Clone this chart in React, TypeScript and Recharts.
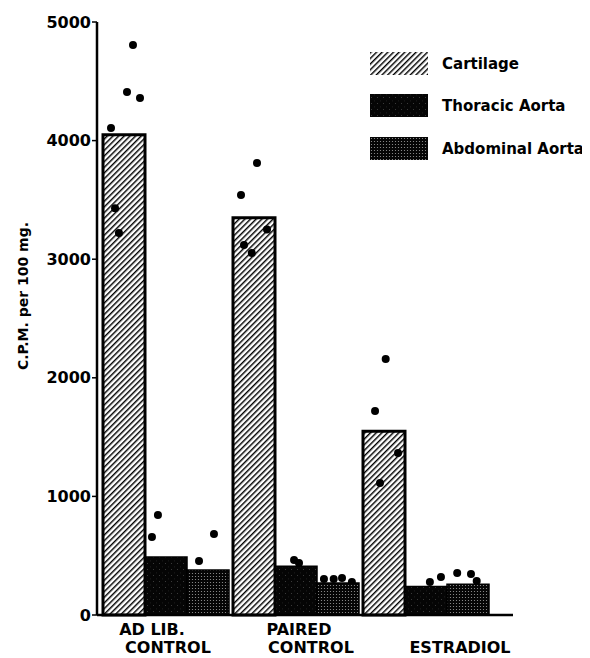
import React from "react";
import { Bar, ComposedChart, Scatter, XAxis, YAxis } from "recharts";

// group means (C.P.M. per 100 mg.)
const groups = ["AD LIB.|CONTROL", "PAIRED|CONTROL", "ESTRADIOL"];
const cartilage = [4050, 3350, 1550];
const thoracic = [490, 410, 240];
const abdominal = [380, 270, 260];
const yTicks = [0, 1000, 2000, 3000, 4000, 5000];

// single animals: where they sit across the groups (0..3) and their value
const dotPos = [
  0.246, 0.2, 0.3, 0.077, 0.108, 0.138, 0.438, 0.392, 0.754, 0.869,
  1.2, 1.077, 1.1, 1.16, 1.277, 1.485, 1.523, 1.715, 1.79, 1.854, 1.93,
  2.19, 2.108, 2.146, 2.285, 2.53, 2.615, 2.74, 2.846, 2.89,
];
const dotCpm = [
  4806, 4410, 4360, 4107, 3430, 3220, 843, 658, 455, 683,
  3811, 3541, 3120, 3052, 3250, 464, 439, 304, 304, 312, 278,
  2158, 1720, 1113, 1366, 278, 320, 354, 346, 287,
];

const legendItems = ["Cartilage", "Thoracic Aorta", "Abdominal Aorta"];

const rows = groups.map((g, i) => ({
  group: g,
  cartilage: cartilage[i],
  thoracic: thoracic[i],
  abdominal: abdominal[i],
}));
const dots = dotPos.map((x, i) => ({ x, y: dotCpm[i] }));

const FONT = "'DejaVu Sans', sans-serif";
const labelShift = [[-14, 2], [3, 15], [34]];

const Patterns = ({ prefix }: { prefix: string }) => (
  <defs>
    <pattern id={prefix + "hatch"} patternUnits="userSpaceOnUse" width="4" height="4" patternTransform="rotate(45)">
      <line x1="0" y1="0" x2="0" y2="4" stroke="#000" strokeWidth="2.9" />
    </pattern>
    <pattern id={prefix + "thor"} patternUnits="userSpaceOnUse" width="6" height="6">
      <rect width="6" height="6" fill="#050505" />
      <rect x="1" y="3" width="1" height="1" fill="#3a3a3a" />
      <rect x="4" y="0.5" width="0.8" height="0.8" fill="#2a2a2a" />
    </pattern>
    <pattern id={prefix + "abd"} patternUnits="userSpaceOnUse" width="3" height="3">
      <rect width="3" height="3" fill="#050505" />
      <circle cx="1.5" cy="1.5" r="0.6" fill="#999" />
    </pattern>
  </defs>
);

const GroupTick = (props: any) => {
  const { x, payload } = props;
  const lines = String(payload.value).split("|");
  const shifts = labelShift[payload.index] || [];
  const baseY = lines.length === 1 ? [645] : [627, 645];
  return (
    <g>
      {lines.map((t, i) => (
        <text
          key={i}
          x={x + (shifts[i] || 0)}
          y={baseY[i]}
          textAnchor="middle"
          fontFamily={FONT}
          fontWeight="bold"
          fontSize={16}
          fill="#000"
        >
          {t}
        </text>
      ))}
    </g>
  );
};

const Dot = (p: any) => <circle cx={p.cx} cy={p.cy} r={4} fill="#000" />;

const swatchFill = ["url(#lg-hatch)", "url(#lg-thor)", "url(#lg-abd)"];
const swatchTop = [44, 86, 129];

export default function App() {
  return (
    <div style={{ position: "relative", width: 582, height: 650 }}>
      <ComposedChart
        width={582}
        height={650}
        data={rows}
        margin={{ top: 14, right: 77, bottom: 3, left: 29 }}
        barCategoryGap={2}
        barGap={0}
      >
        <Patterns prefix="" />
        <XAxis
          xAxisId="cat"
          dataKey="group"
          height={40}
          padding={{ left: 4, right: 22 }}
          axisLine={{ stroke: "#000", strokeWidth: 2.5 }}
          tickLine={false}
          tick={<GroupTick />}
          interval={0}
        />
        <XAxis
          xAxisId="num"
          type="number"
          dataKey="x"
          domain={[0, 3]}
          padding={{ left: 4, right: 22 }}
          hide
        />
        <YAxis
          width={60}
          domain={[0, 5000]}
          ticks={yTicks}
          interval={0}
          axisLine={{ stroke: "#000", strokeWidth: 2.5 }}
          tickLine={{ stroke: "#000", strokeWidth: 1.5 }}
          tickSize={5}
          tickMargin={1}
          tick={{ fill: "#000", fontFamily: FONT, fontWeight: "bold", fontSize: 16 }}
          label={() => (
            <text
              x={20}
              y={288}
              transform="rotate(-90 20 288)"
              textAnchor="middle"
              fontFamily={FONT}
              fontWeight="bold"
              fontSize={14}
              fill="#000"
            >
              C.P.M. per 100 mg.
            </text>
          )}
        />
        <Scatter xAxisId="num" data={dots} dataKey="y" shape={<Dot />} zIndex={100} isAnimationActive={false} />
        <Bar xAxisId="cat" dataKey="cartilage" fill="url(#hatch)" stroke="#000" strokeWidth={3} isAnimationActive={false} />
        <Bar xAxisId="cat" dataKey="thoracic" fill="url(#thor)" stroke="#000" strokeWidth={1.5} isAnimationActive={false} />
        <Bar xAxisId="cat" dataKey="abdominal" fill="url(#abd)" stroke="#000" strokeWidth={1.5} isAnimationActive={false} />
      </ComposedChart>

      {legendItems.map((name, i) => (
        <div
          key={name}
          style={{
            position: "absolute",
            left: 362,
            top: swatchTop[i],
            height: 23,
            display: "flex",
            alignItems: "center",
            fontFamily: FONT,
            fontWeight: "bold",
            fontSize: 15,
            whiteSpace: "nowrap",
          }}
        >
          <svg width={58} height={23} style={{ display: "block" }}>
            {i === 0 && <Patterns prefix="lg-" />}
            <rect width={58} height={23} fill={swatchFill[i]} />
          </svg>
          <span style={{ marginLeft: 14 }}>{name}</span>
        </div>
      ))}
    </div>
  );
}
